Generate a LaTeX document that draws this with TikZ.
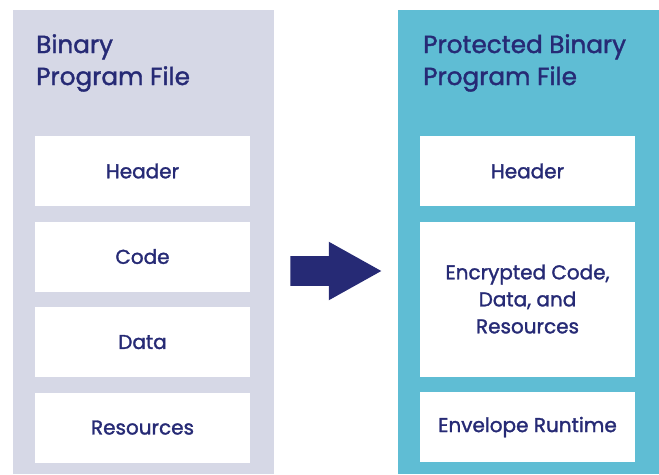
\documentclass[tikz,border=0pt]{standalone}
\usepackage{fontspec}
\setmainfont{Poppins}[FakeBold=1.5]
\usepackage{tikz}
\usetikzlibrary{
  shapes.arrows,
  positioning
}
\definecolor{NavyText}{RGB}{38, 42, 117}
\definecolor{Lavender}{RGB}{214, 216, 230}
\definecolor{Aqua}{RGB}{95, 189, 212}

\begin{document}
\begin{tikzpicture}[
        x=0.75pt, y=-0.75pt,
        node distance=11.25pt,
        every node/.style={text=NavyText},
        panel/.style={rectangle, inner sep=0pt, minimum width=195.75pt, minimum height=348pt},
        part/.style={rectangle, fill=white, inner sep=0pt, minimum width=161.25pt, minimum height=52.5pt, align=center, font=\fontsize{15}{20.25}\selectfont},
        heading/.style={anchor=north west, inner sep=0pt, align=left, font=\fontsize{18.5}{24}\selectfont}
    ]
    \useasboundingbox (0,0) rectangle (659,474);
    % Panels
    \node[panel, fill=Lavender] (plain) at (143.5,242) {};
    \node[panel, fill=Aqua] (protected) at (528.5,242) {};

    % Titles
    \node[heading] (plaintitle) at (36,34) {Binary\\Program File};
    \node[heading] (protectedtitle) at (423,34) {Protected Binary\\Program File};

    % Left parts
    \node[part] (header) at (142.5,171) {Header};
    \node[part, below=of header] (code) {Code};
    \node[part, below=of code] (data) {Data};
    \node[part, below=of data] (resources) {Resources};

    % Right parts
    \node[part] (pheader) at (527.5,171) {Header};
    \node[part, below=of pheader, minimum height=116.25pt] (encrypted) {Encrypted Code,\\Data, and\\Resources};
    \node[part, below=of encrypted] (runtime) {Envelope Runtime};

    % Arrow
    \node[single arrow, fill=NavyText, anchor=tail, inner xsep=0pt, inner ysep=10.875pt, minimum height=68.25pt, minimum width=43.5pt,
          single arrow head extend=10.875pt, single arrow tip angle=58.3] (conv) at (290,271) {};
\end{tikzpicture}
\end{document}
